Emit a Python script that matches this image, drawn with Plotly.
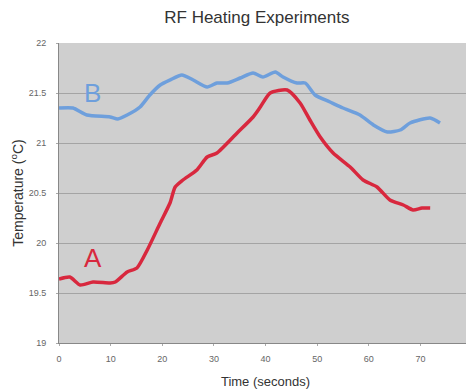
import plotly.graph_objects as go

# Series A (red)
time_a = [0, 2.1, 4.1, 6.6, 9.9, 10.9, 13.2, 15.1, 17.1, 19.6, 21.5, 22.5, 24.0, 26.7, 28.7,
          30.6, 34.5, 37.6, 39.0, 40.9, 44.2, 46.7, 48.6, 50.6, 53.1, 56.4, 58.9, 61.6, 64.1,
          66.7, 68.6, 70.3, 71.9]
temp_a = [19.64, 19.66, 19.58, 19.61, 19.60, 19.61, 19.71, 19.75, 19.93, 20.20, 20.40, 20.56,
          20.63, 20.73, 20.86, 20.90, 21.10, 21.26, 21.36, 21.50, 21.53, 21.40, 21.23, 21.06,
          20.90, 20.76, 20.63, 20.56, 20.43, 20.38, 20.33, 20.35, 20.35]

# Series B (blue)
time_b = [0, 2.7, 5.4, 9.9, 11.4, 13.2, 15.7, 17.6, 19.6, 21.5, 23.8, 26.0, 28.7, 30.6, 32.6,
          35.1, 37.6, 39.5, 41.9, 43.4, 46.1, 47.7, 49.6, 52.5, 55.0, 58.3, 60.9, 63.6, 66.1,
          68.0, 71.9, 73.8]
temp_b = [21.35, 21.35, 21.28, 21.26, 21.24, 21.28, 21.36, 21.48, 21.58, 21.63, 21.68, 21.63,
          21.56, 21.60, 21.60, 21.65, 21.70, 21.66, 21.71, 21.66, 21.60, 21.60, 21.48, 21.41,
          21.35, 21.28, 21.18, 21.11, 21.13, 21.20, 21.25, 21.20]

x_ticks = [0, 10, 20, 30, 40, 50, 60, 70, 80]
y_ticks = [19, 19.5, 20, 20.5, 21, 21.5, 22]
y_tick_labels = ["19", "19.5", "20", "20.5", "21", "21.5", "22"]

label_a = {"text": "A", "t": 6.6, "temp": 19.85}
label_b = {"text": "B", "t": 6.4, "temp": 21.5}

RED = "#d8283e"
BLUE = "#6e9fdc"

fig = go.Figure()
fig.add_trace(go.Scatter(x=time_b, y=temp_b, mode="lines",
                         line=dict(color=BLUE, width=3.5, shape="spline", smoothing=0.6),
                         showlegend=False, hoverinfo="skip"))
fig.add_trace(go.Scatter(x=time_a, y=temp_a, mode="lines",
                         line=dict(color=RED, width=3.5, shape="spline", smoothing=0.6),
                         showlegend=False, hoverinfo="skip"))

fig.add_annotation(x=label_a["t"], y=label_a["temp"], text=label_a["text"], showarrow=False,
                   font=dict(family="Liberation Sans, Arial, sans-serif", size=26, color=RED))
fig.add_annotation(x=label_b["t"], y=label_b["temp"], text=label_b["text"], showarrow=False,
                   font=dict(family="Liberation Sans, Arial, sans-serif", size=26, color=BLUE))

# the page body adds an 8px offset; margins compensate for it
fig.update_layout(
    width=474, height=392,
    margin=dict(l=51, r=10, t=35, b=57, autoexpand=False),
    paper_bgcolor="white",
    plot_bgcolor="#cfcfcf",
    font=dict(family="Liberation Sans, Arial, sans-serif", color="#222"),
    title=dict(text="RF Heating Experiments", x=0.525, xanchor="center", y=0.977, yanchor="middle",
               font=dict(size=17, color="#333")),
    xaxis=dict(range=[0, 80], tickvals=x_ticks, ticktext=[str(v) for v in x_ticks],
               automargin=False,
               showgrid=False, zeroline=False, showline=True, linecolor="#888", linewidth=1,
               mirror=False, ticks="outside", ticklen=2, tickcolor="#aaa",
               ticklabelstandoff=5,
               tickfont=dict(size=9, color="#666"),
               title=dict(text="Time (seconds)", font=dict(size=13, color="#333"), standoff=14)),
    yaxis=dict(range=[19, 22], tickvals=y_ticks, ticktext=y_tick_labels,
               automargin=False,
               showgrid=True, gridcolor="#a4a4a4", gridwidth=1, zeroline=False,
               showline=True, linecolor="#888", linewidth=1, mirror=False,
               ticks="outside", ticklen=2, tickcolor="#aaa",
               ticklabelstandoff=8,
               tickfont=dict(size=9, color="#666"),
               title=dict(text="Temperature (<sup>o</sup>C)", font=dict(size=14, color="#333"),
                          standoff=10)),
)

fig.write_html("out.html")
